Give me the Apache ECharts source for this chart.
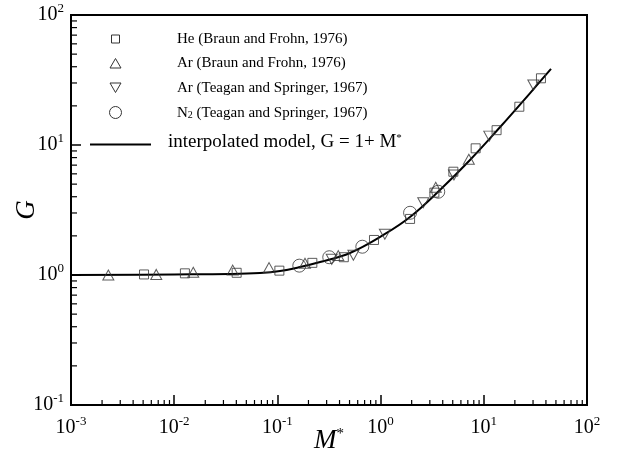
<!DOCTYPE html>
<html><head><meta charset="utf-8">
<script src="https://cdn.jsdelivr.net/npm/echarts@6/dist/echarts.min.js"></script>
<style>html,body{margin:0;padding:0;background:#fff}#c{width:618px;height:458px}</style>
</head><body><div id="c"></div>
<script>
// He (Braun and Frohn, 1976) — squares
const heM = [0.0051, 0.0127, 0.0403, 0.1045, 0.218, 0.44, 0.863, 1.93, 3.32, 5.07, 8.34, 13.3, 22.1, 35.8];
const heG = [1.01, 1.03, 1.04, 1.08, 1.24, 1.37, 1.86, 2.70, 4.30, 6.23, 9.43, 13.0, 19.7, 32.6];
// Ar (Braun and Frohn, 1976) — up triangles
const arBM = [0.0023, 0.0067, 0.0153, 0.0369, 0.083, 0.185, 0.389, 3.42, 7.16];
const arBG = [1.00, 1.01, 1.05, 1.09, 1.14, 1.23, 1.41, 4.73, 7.76];
// Ar (Teagan and Springer, 1967) — down triangles
const arTM = [0.336, 0.545, 1.10, 2.59, 5.14, 11.3, 30.2];
const arTG = [1.32, 1.42, 2.06, 3.60, 5.88, 11.7, 28.9];
// N2 (Teagan and Springer, 1967) — circles
const n2M = [0.163, 0.318, 0.665, 1.93, 3.62];
const n2G = [1.18, 1.37, 1.65, 3.01, 4.37];
// interpolated model curve
const modelM = [0.001, 0.01, 0.0348, 0.0677, 0.106, 0.166, 0.259, 0.505, 1.104, 1.928, 3.76, 7.35, 14.4, 28.1, 44.8];
const modelG = [1.0, 1.01, 1.018, 1.036, 1.073, 1.152, 1.259, 1.477, 2.068, 2.79, 4.51, 7.67, 13.75, 25.1, 38.5];
// axes
const xDecades = [0.001, 0.01, 0.1, 1, 10];
const yDecades = [0.1, 1, 10];
const minorMult = [2, 3, 4, 5, 6, 7, 8, 9];
const legendNames = ['He (Braun and Frohn, 1976)', 'Ar (Braun and Frohn, 1976)', 'Ar (Teagan and Springer, 1967)', ' (Teagan and Springer, 1967)', 'interpolated model, G = 1+ M'];

const FONT = 'Liberation Serif';
const zip = (a, b) => a.map((v, i) => [v, b[i]]);
const xMinor = [], yMinor = [];
xDecades.forEach(d => minorMult.forEach(m => xMinor.push(d * m)));
yDecades.forEach(d => minorMult.forEach(m => yMinor.push(d * m)));

const chart = echarts.init(document.getElementById('c'), null, {renderer: 'canvas'});
const supLabel = v => {
  const e = Math.round(Math.log10(v));
  return '{b|10}{s|' + e + '}';
};
const labelRich = {
  b: {fontSize: 20, fontFamily: FONT, color: '#000'},
  s: {fontSize: 13, fontFamily: FONT, color: '#000', verticalAlign: 'bottom', padding: [0, 0, 12, 0]}
};
const mk = {color: 'rgba(0,0,0,0)', borderColor: '#333', borderWidth: 1};

chart.setOption({
  animation: false,
  grid: {left: 71, right: 31, top: 15, bottom: 53, show: true, borderColor: '#000', borderWidth: 2, backgroundColor: 'transparent', containLabel: false, outerBoundsMode: 'none'},
  xAxis: {
    type: 'log', logBase: 10, min: 0.001, max: 100, splitNumber: 5,
    splitLine: {show: false},
    axisLine: {lineStyle: {color: '#000', width: 2}},
    axisTick: {inside: true, length: 10, lineStyle: {color: '#000', width: 1.5}},
    axisLabel: {formatter: supLabel, rich: labelRich, margin: 10},
    name: '{m|M}{s|*}', nameLocation: 'middle', nameGap: 22, nameMoveOverlap: false,
    nameTextStyle: {verticalAlign: 'top', rich: {m: {fontSize: 27, fontFamily: FONT, fontStyle: 'italic', color: '#000'}, s: {fontSize: 15, fontFamily: FONT, color: '#000', verticalAlign: 'bottom', padding: [0, 0, 12, 0]}}}
  },
  yAxis: {
    type: 'log', logBase: 10, min: 0.1, max: 100, splitNumber: 3,
    splitLine: {show: false},
    axisLine: {lineStyle: {color: '#000', width: 2}},
    axisTick: {inside: true, length: 10, lineStyle: {color: '#000', width: 1.5}},
    axisLabel: {formatter: supLabel, rich: labelRich, margin: 7},
    name: 'G', nameLocation: 'middle', nameGap: 31, nameRotate: 90, nameMoveOverlap: false,
    nameTextStyle: {fontSize: 27, fontFamily: FONT, fontStyle: 'italic', color: '#000'}
  },
  series: [
    {type: 'custom', silent: true, clip: false, data: xMinor.map(v => [v]), encode: {x: 0},
      renderItem: (p, api) => {
        const pt = api.coord([api.value(0), 0.1]);
        return {type: 'line', shape: {x1: pt[0], y1: pt[1], x2: pt[0], y2: pt[1] - 5}, style: {stroke: '#000', lineWidth: 1.2}};
      }},
    {type: 'custom', silent: true, clip: false, data: yMinor.map(v => [0.001, v]), encode: {x: 0, y: 1},
      renderItem: (p, api) => {
        const pt = api.coord([0.001, api.value(1)]);
        return {type: 'line', shape: {x1: pt[0], y1: pt[1], x2: pt[0] + 6, y2: pt[1]}, style: {stroke: '#000', lineWidth: 1.2}};
      }},
    {type: 'line', name: 'model', data: zip(modelM, modelG), smooth: 0.4, showSymbol: false, symbol: 'none',
      lineStyle: {color: '#000', width: 2}, z: 2},
    {type: 'scatter', data: zip(heM, heG), symbol: 'rect', symbolSize: 9, itemStyle: mk, z: 3},
    {type: 'scatter', data: zip(arBM, arBG), symbol: 'triangle', symbolSize: [11, 10], itemStyle: mk, z: 3},
    {type: 'scatter', data: zip(arTM, arTG), symbol: 'triangle', symbolRotate: 180, symbolSize: [11, 10], itemStyle: mk, z: 3},
    {type: 'scatter', data: zip(n2M, n2G), symbol: 'circle', symbolSize: 13, itemStyle: mk, z: 3}
  ],
  graphic: [
    {type: 'rect', shape: {x: 111.5, y: 35, width: 8, height: 8}, style: {fill: 'none', stroke: '#333', lineWidth: 1}},
    {type: 'polygon', shape: {points: [[115.5, 58.5], [110, 68], [121, 68]]}, style: {fill: 'none', stroke: '#333', lineWidth: 1}},
    {type: 'polygon', shape: {points: [[110, 83], [121, 83], [115.5, 92.5]]}, style: {fill: 'none', stroke: '#333', lineWidth: 1}},
    {type: 'circle', shape: {cx: 115.5, cy: 112.5, r: 6}, style: {fill: 'none', stroke: '#333', lineWidth: 1}},
    {type: 'line', shape: {x1: 90, y1: 144.5, x2: 151, y2: 144.5}, style: {stroke: '#000', lineWidth: 2}},
    {type: 'text', x: 177, y: 39, style: {text: legendNames[0], font: '15px "Liberation Serif"', fill: '#000', verticalAlign: 'middle'}},
    {type: 'text', x: 177, y: 63, style: {text: legendNames[1], font: '15px "Liberation Serif"', fill: '#000', verticalAlign: 'middle'}},
    {type: 'text', x: 177, y: 88, style: {text: legendNames[2], font: '15px "Liberation Serif"', fill: '#000', verticalAlign: 'middle'}},
    {type: 'text', x: 177, y: 113, style: {text: '{n|N}{sub|2}{n|' + legendNames[3] + '}', verticalAlign: 'middle',
      rich: {n: {fontSize: 15, fontFamily: FONT, fill: '#000'}, sub: {fontSize: 10, fontFamily: FONT, fill: '#000', verticalAlign: 'bottom'}}}},
    {type: 'text', x: 168, y: 142, style: {text: '{t|' + legendNames[4] + '}{s|*}', verticalAlign: 'middle',
      rich: {t: {fontSize: 19, fontFamily: FONT, fill: '#000'}, s: {fontSize: 11, fontFamily: FONT, fill: '#000', verticalAlign: 'top'}}}}
  ]
});
</script></body></html>
